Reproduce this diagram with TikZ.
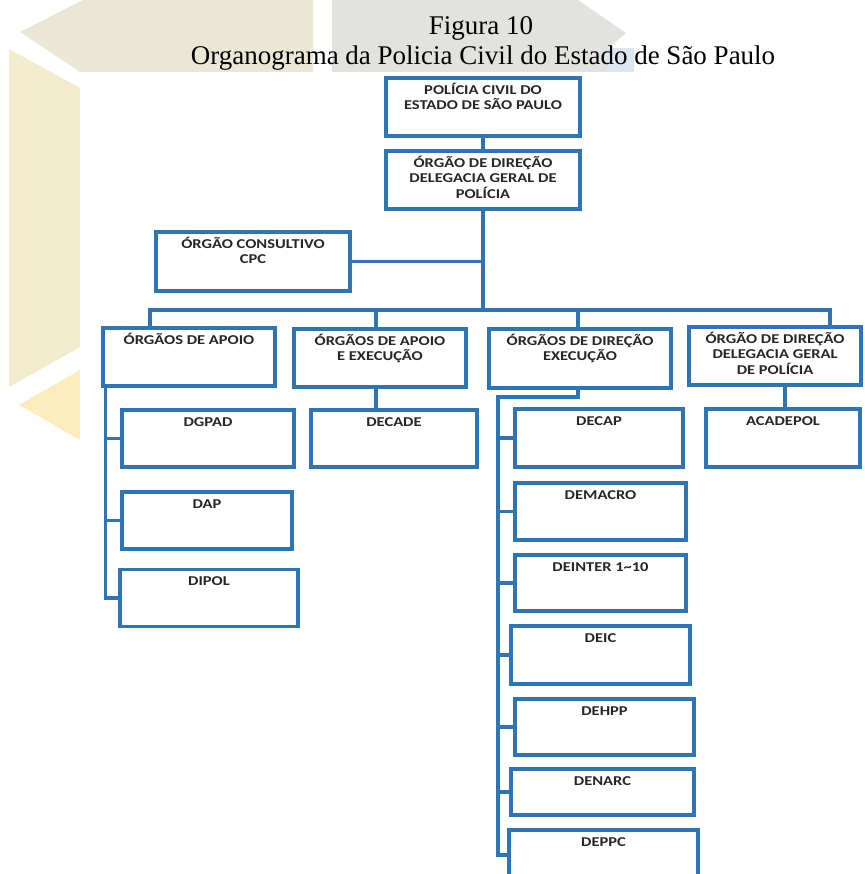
\documentclass[tikz,border=0pt]{standalone}
\usepackage{fontspec}
\setmainfont{Liberation Serif}
\newfontfamily\boxfont{Carlito}
\definecolor{orgblue}{HTML}{2E75B6}
\definecolor{sandA}{HTML}{EAE7D4}
\definecolor{greyA}{HTML}{E2E2DE}
\definecolor{sandB}{HTML}{F3EBCD}
\definecolor{sunA}{HTML}{FDEDBD}
\definecolor{skyA}{HTML}{DCE6F2}
\definecolor{inkA}{HTML}{262626}
% lines of a box, baseline on the first one
\newcommand{\boxlines}[1]{\scalebox{1.22}[1]{\begin{tabular}[t]{@{}c@{}}#1\end{tabular}}}
\tikzset{
        box/.style={draw=orgblue, line width=3.6pt, fill=white, inner sep=0pt},
        link/.style={draw=orgblue, line width=3.4pt},
        lbl/.style={font=\boxfont\bfseries\fontsize{13.5}{15.5}\selectfont, text=inkA, anchor=base, yshift=-18pt, inner sep=0pt},
        ttl/.style={font=\fontsize{27}{30}\selectfont, anchor=base, inner sep=0pt}
}

\begin{document}
\begin{tikzpicture}[x=1pt,y=-1pt]
        \useasboundingbox (0,0) rectangle (864,874);
        \clip (0,0) rectangle (864,874);
        % watermark in the background
        \fill[skyA] (606,48) -- (634,48) -- (634,72) -- (606,72) -- cycle;
        \fill[sandA] (20,32) -- (83,0) -- (313,0) -- (313,72) -- (80,72) -- cycle;
        \fill[greyA] (332,0) -- (578,0) -- (626,33) -- (606,50) -- (606,72) -- (332,72) -- cycle;
        \fill[sandB] (9,49) -- (80,88) -- (80,347) -- (9,387) -- cycle;
        \fill[sunA] (19,405) -- (80,370) -- (80,440) -- cycle;

        \node[ttl] (fig) at (481,35) {Figura 10};
        \node[ttl] (title) at (483,65) {Organograma da Policia Civil do Estado de São Paulo};

        % top of the chart
        \node[box, minimum width=194, minimum height=58, label={[lbl]north:\boxlines{POLÍCIA CIVIL DO\\ESTADO DE SÃO PAULO}}] (pc) at (483,107) {};
        \node[box, minimum width=194, minimum height=58, label={[lbl]north:\boxlines{ÓRGÃO DE DIREÇÃO\\DELEGACIA GERAL DE\\POLÍCIA}}] (dgp) at (483,180) {};
        \node[box, minimum width=194, minimum height=59, label={[lbl]north:\boxlines{ÓRGÃO CONSULTIVO\\CPC}}] (cpc) at (253,261.5) {};

        % second level
        \node[box, minimum width=172, minimum height=58, label={[lbl]north:\boxlines{ÓRGÃOS DE APOIO}}] (apoio) at (189,357) {};
        \node[box, minimum width=172, minimum height=58, label={[lbl]north:\boxlines{ÓRGÃOS DE APOIO\\E EXECUÇÃO}}] (apoioexec) at (380,358) {};
        \node[box, minimum width=182, minimum height=59, label={[lbl]north:\boxlines{ÓRGÃOS DE DIREÇÃO\\EXECUÇÃO}}] (direxec) at (580,358.5) {};
        \node[box, minimum width=172, minimum height=58, label={[lbl]north:\boxlines{ÓRGÃO DE DIREÇÃO\\DELEGACIA GERAL\\DE POLÍCIA}}] (dirdgp) at (775,356) {};

        % departments
        \node[box, minimum width=172, minimum height=57, label={[lbl]north:\boxlines{DGPAD}}] (dgpad) at (208,438.5) {};
        \node[box, minimum width=170, minimum height=57, label={[lbl]north:\boxlines{DAP}}] (dap) at (207,520.5) {};
        \node[box, minimum width=178, minimum height=57, label={[lbl]north:\boxlines{DIPOL}}] (dipol) at (209,598) {};
        \node[box, minimum width=166, minimum height=57, label={[lbl]north:\boxlines{DECADE}}] (decade) at (394,438.5) {};
        \node[box, minimum width=168, minimum height=58, label={[lbl]north:\boxlines{DECAP}}] (decap) at (599,438) {};
        \node[box, minimum width=171, minimum height=57, label={[lbl]north:\boxlines{DEMACRO}}] (demacro) at (600.5,511.5) {};
        \node[box, minimum width=171, minimum height=56, label={[lbl]north:\boxlines{DEINTER 1\textasciitilde10}}] (deinter) at (600.5,583) {};
        \node[box, minimum width=179, minimum height=58, label={[lbl]north:\boxlines{DEIC}}] (deic) at (600.5,655) {};
        \node[box, minimum width=179, minimum height=56, label={[lbl]north:\boxlines{DEHPP}}] (dehpp) at (604.5,727) {};
        \node[box, minimum width=183, minimum height=46, label={[lbl]north:\boxlines{DENARC}}] (denarc) at (602.5,792) {};
        \node[box, minimum width=189, minimum height=50, label={[lbl]north:\boxlines{DEPPC}}] (deppc) at (603.5,855) {};
        \node[box, minimum width=154, minimum height=58, label={[lbl]north:\boxlines{ACADEPOL}}] (acadepol) at (783,438) {};

        % connectors
        \coordinate (bus) at (483,310);
        \draw[link] (pc) -- (dgp);
        \draw[link] (dgp.south) -- (bus);
        \draw[link] (cpc.east) -- (cpc.east -| bus);
        \draw[link] ([xshift=-39]apoio.north) |- (bus) -| ([xshift=55]dirdgp.north);
        \draw[link] ([xshift=-4]apoioexec.north) -- ([xshift=-4]apoioexec.north |- bus);
        \draw[link] ([xshift=-2]direxec.north) -- ([xshift=-2]direxec.north |- bus);
        \draw[link] ([xshift=-4]apoioexec.south) -- ([xshift=-4]apoioexec.south |- decade.north);
        \draw[link] ([xshift=10]dirdgp.south) -- ([xshift=10]dirdgp.south |- acadepol.north);

        \coordinate (sa) at ([xshift=4]apoio.south west);
        \draw[link] (sa) |- (dipol.west);
        \foreach \n in {dgpad,dap}
            \draw[link] (\n.west -| sa) -- (\n.west);

        \coordinate (se) at (498,397);
        \draw[link] ([xshift=-2]direxec.south) |- (se) |- (deppc.west);
        \foreach \n in {decap,demacro,deinter,deic,dehpp,denarc}
            \draw[link] (\n.west -| se) -- (\n.west);
\end{tikzpicture}
\end{document}
